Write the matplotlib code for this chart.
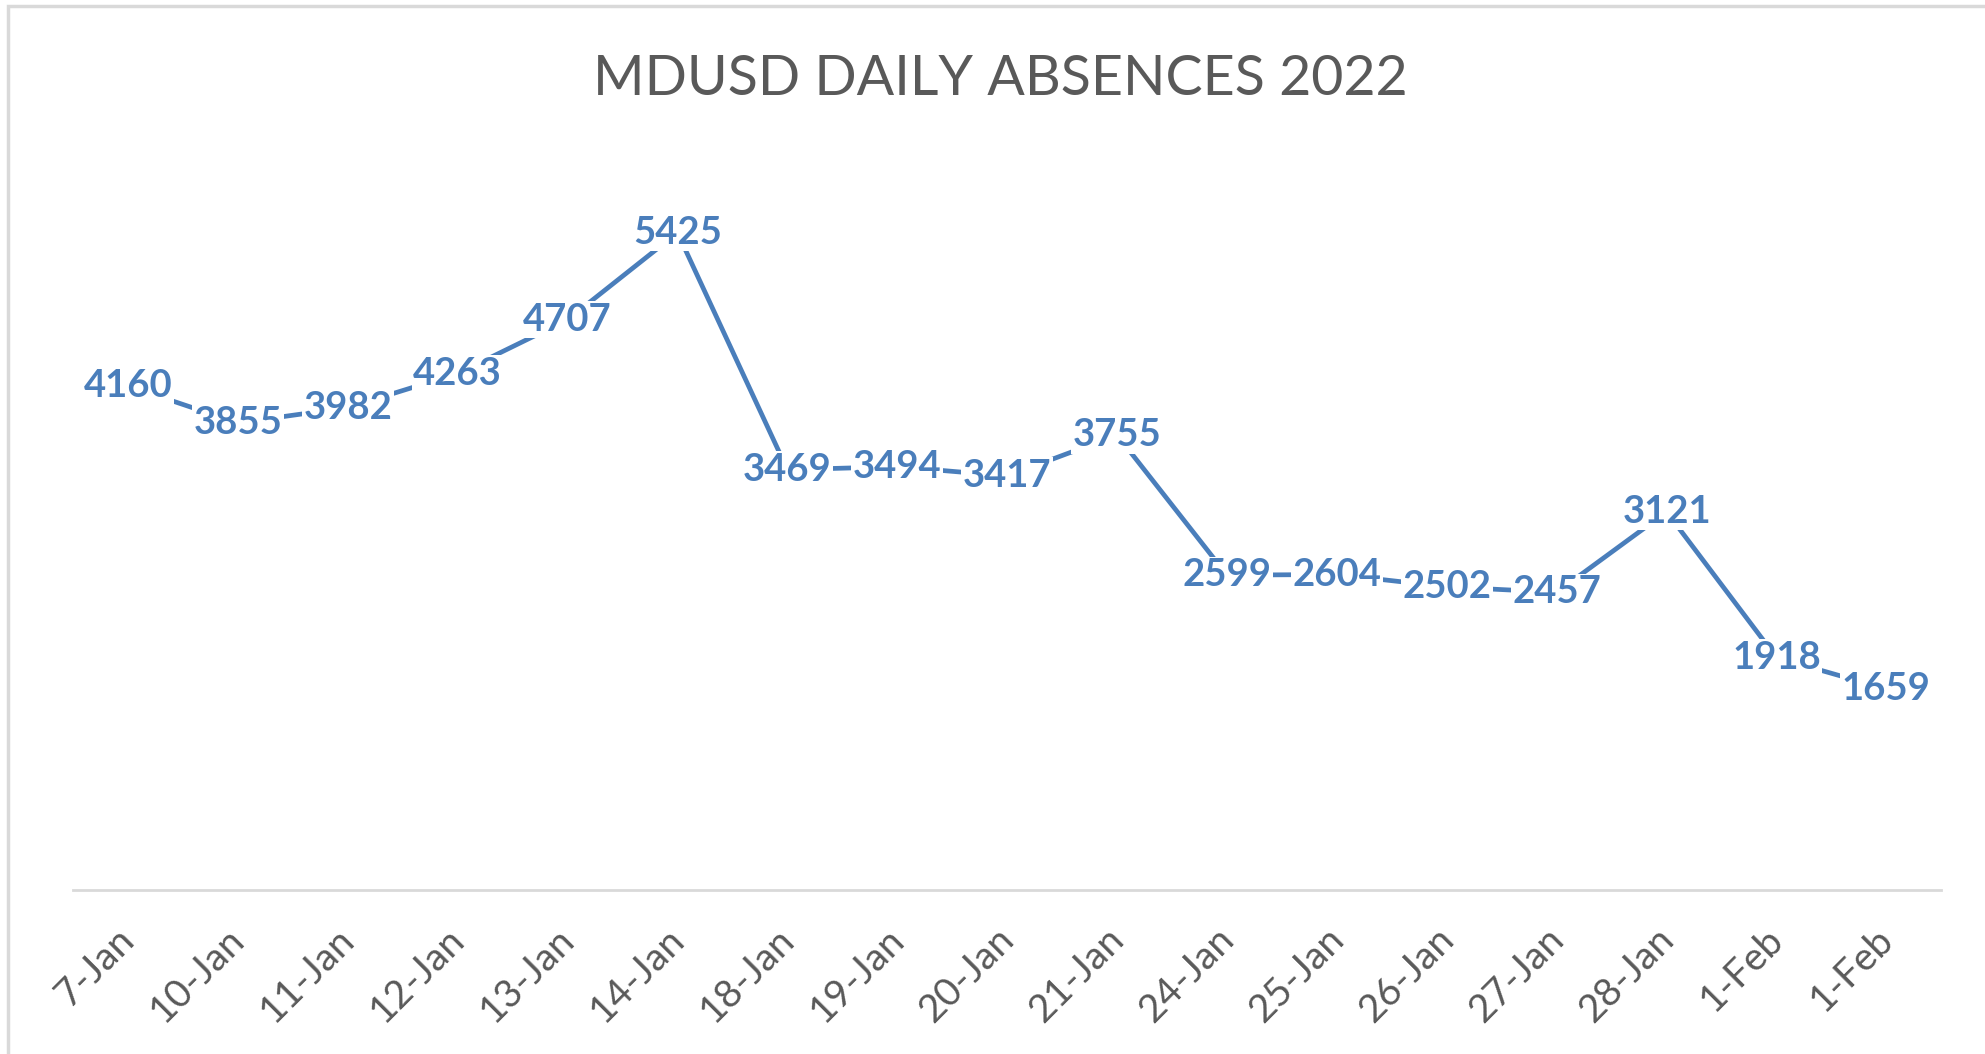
import matplotlib.pyplot as plt
from matplotlib.patches import Rectangle
from matplotlib.transforms import ScaledTranslation

# ---- data ----
dates = ["7-Jan", "10-Jan", "11-Jan", "12-Jan", "13-Jan", "14-Jan", "18-Jan",
         "19-Jan", "20-Jan", "21-Jan", "24-Jan", "25-Jan", "26-Jan", "27-Jan",
         "28-Jan", "1-Feb", "1-Feb"]
absences = [4160, 3855, 3982, 4263, 4707, 5425, 3469, 3494, 3417, 3755,
            2599, 2604, 2502, 2457, 3121, 1918, 1659]

TITLE = "MDUSD DAILY ABSENCES 2022"
BLUE = "#4a7ebb"
GREY_TEXT = "#595959"

plt.rcParams["font.family"] = ["Lato", "DejaVu Sans"]

fig = plt.figure(figsize=(19.85, 10.54), dpi=100)
ax = fig.add_axes([0.0368, 0.1556, 0.9412, 0.6897])

x = list(range(len(absences)))
ax.plot(x, absences, color=BLUE, lw=3.4, zorder=1, solid_capstyle="butt")

# data labels sit on the points, white box hides the line underneath
for xi, v in zip(x, absences):
    ax.text(xi, v, str(v), ha="center", va="center", fontsize=27.5,
            fontweight="bold", color=BLUE, zorder=3,
            bbox=dict(facecolor="white", edgecolor="none", pad=1.2))

ax.set_xlim(-0.5, len(absences) - 0.5)
ax.set_ylim(0, 6000)
ax.set_yticks([])
ax.set_xticks(x)
ax.set_xticklabels(dates, rotation=45, ha="right", va="top",
                   fontsize=28, color=GREY_TEXT)
ax.tick_params(axis="x", length=0, pad=22)
shift = ScaledTranslation(10 / 72, 0, fig.dpi_scale_trans)
for lbl in ax.get_xticklabels():
    lbl.set_transform(lbl.get_transform() + shift)

for side in ["top", "left", "right"]:
    ax.spines[side].set_visible(False)
ax.spines["bottom"].set_color("#d9d9d9")
ax.spines["bottom"].set_linewidth(2)

fig.text(0.504, 0.925, TITLE, ha="center", va="center", fontsize=40,
         color=GREY_TEXT)

# chart outline (right and bottom edges are cropped in the source)
fig.patches.append(Rectangle((0.004, -0.05), 1.05, 0.994 + 0.05,
                             transform=fig.transFigure, fill=False,
                             edgecolor="#d9d9d9", lw=2.5))

fig.savefig("out.png", dpi=100)
